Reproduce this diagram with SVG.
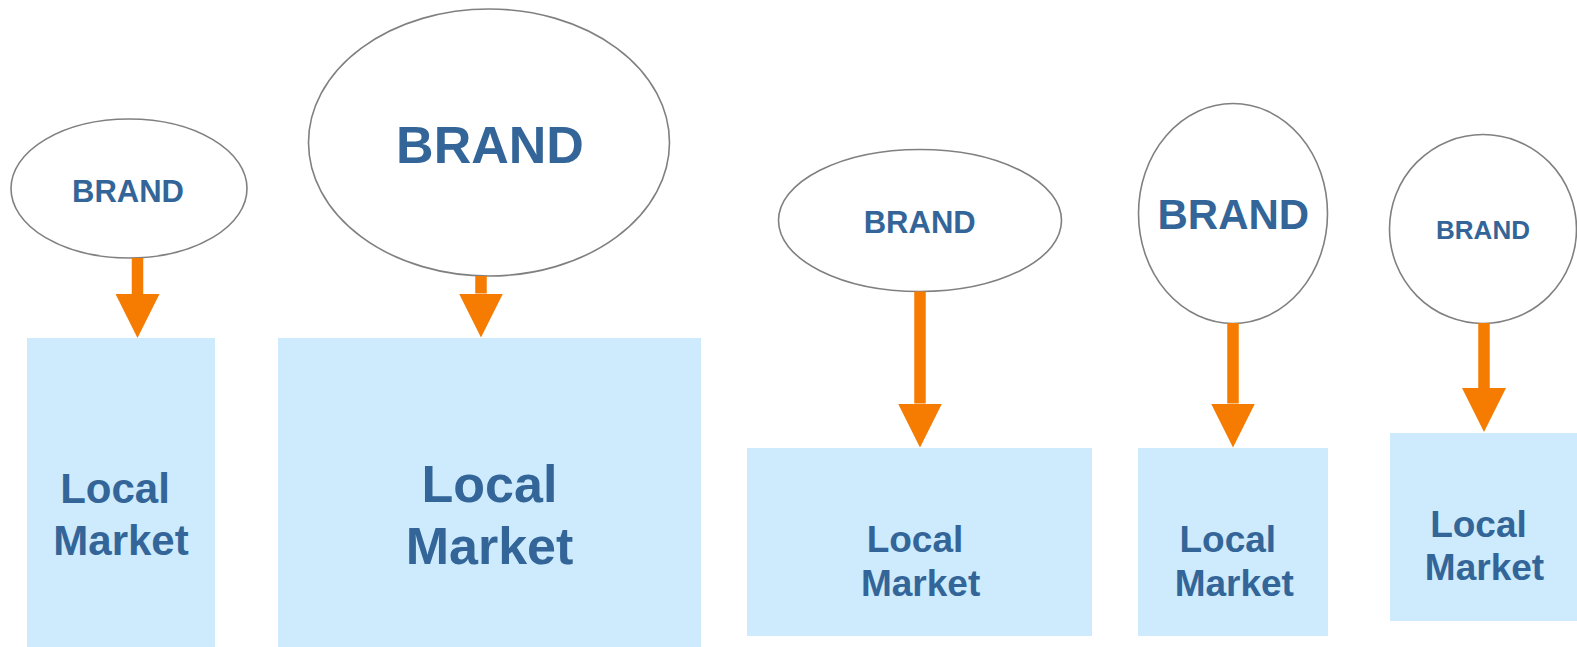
<svg xmlns="http://www.w3.org/2000/svg" width="1577" height="647" viewBox="0 0 1577 647">
  <style>
    .brand { fill: #fff; stroke: #808080; stroke-width: 1.6; }
    .market { fill: #cdebfd; }
    .lbl { font-family: "Liberation Sans", Arial, sans-serif; font-weight: bold; fill: #336598; text-anchor: middle; }
    .link { stroke: #f57c00; stroke-width: 11.5; fill: none; }
  </style>
  <defs>
    <marker id="head" markerUnits="userSpaceOnUse" markerWidth="44" markerHeight="44" refX="0" refY="22" orient="auto" viewBox="0 0 44 44">
      <path d="M0,0 L44,22 L0,44 Z" fill="#f57c00"/>
    </marker>
  </defs>
  <rect width="1577" height="647" fill="#fff"/>

  <!-- brand 1 and its market -->
  <g id="brand1">
    <ellipse class="brand" cx="129" cy="188.5" rx="118" ry="69.5"/>
    <text class="lbl" x="128" y="201.7" font-size="31">BRAND</text>
  </g>
  <g id="market1">
    <rect class="market" x="27" y="338" width="188" height="309"/>
    <text class="lbl" font-size="42"><tspan x="115" y="503.3">Local</tspan><tspan x="121" y="555">Market</tspan></text>
  </g>

  <!-- brand 2 and its market -->
  <g id="brand2">
    <ellipse class="brand" cx="489" cy="142.5" rx="180.5" ry="133.5"/>
    <text class="lbl" x="490" y="162.7" font-size="52">BRAND</text>
  </g>
  <g id="market2">
    <rect class="market" x="278" y="338" width="423" height="309"/>
    <text class="lbl" font-size="52"><tspan x="489.5" y="501.7">Local</tspan><tspan x="489.5" y="564.3">Market</tspan></text>
  </g>

  <!-- brand 3 and its market -->
  <g id="brand3">
    <ellipse class="brand" cx="920" cy="220.5" rx="141.5" ry="71"/>
    <text class="lbl" x="919.7" y="232.7" font-size="31">BRAND</text>
  </g>
  <g id="market3">
    <rect class="market" x="747" y="448" width="345" height="188"/>
    <text class="lbl" font-size="37"><tspan x="915" y="551.7">Local</tspan><tspan x="920.6" y="595.7">Market</tspan></text>
  </g>

  <!-- brand 4 and its market -->
  <g id="brand4">
    <ellipse class="brand" cx="1233" cy="213.5" rx="94.5" ry="110"/>
    <text class="lbl" x="1233.3" y="229" font-size="42">BRAND</text>
  </g>
  <g id="market4">
    <rect class="market" x="1138" y="448" width="190" height="188"/>
    <text class="lbl" font-size="37"><tspan x="1227.8" y="551.7">Local</tspan><tspan x="1234.3" y="595.7">Market</tspan></text>
  </g>

  <!-- brand 5 and its market -->
  <g id="brand5">
    <ellipse class="brand" cx="1483" cy="229" rx="93.5" ry="94.5"/>
    <text class="lbl" x="1483" y="239" font-size="26">BRAND</text>
  </g>
  <g id="market5">
    <rect class="market" x="1390" y="433" width="187" height="188"/>
    <text class="lbl" font-size="37"><tspan x="1478.5" y="536.7">Local</tspan><tspan x="1484.5" y="580">Market</tspan></text>
  </g>

  <!-- brand-to-market arrows -->
  <g id="connectors">
    <line class="link" x1="137.5" y1="258" x2="137.5" y2="294" marker-end="url(#head)"/>
    <line class="link" x1="481" y1="276" x2="481" y2="293.5" marker-end="url(#head)"/>
    <line class="link" x1="920" y1="291.5" x2="920" y2="403.5" marker-end="url(#head)"/>
    <line class="link" x1="1233" y1="323" x2="1233" y2="403.5" marker-end="url(#head)"/>
    <line class="link" x1="1484" y1="323" x2="1484" y2="388" marker-end="url(#head)"/>
  </g>
</svg>
